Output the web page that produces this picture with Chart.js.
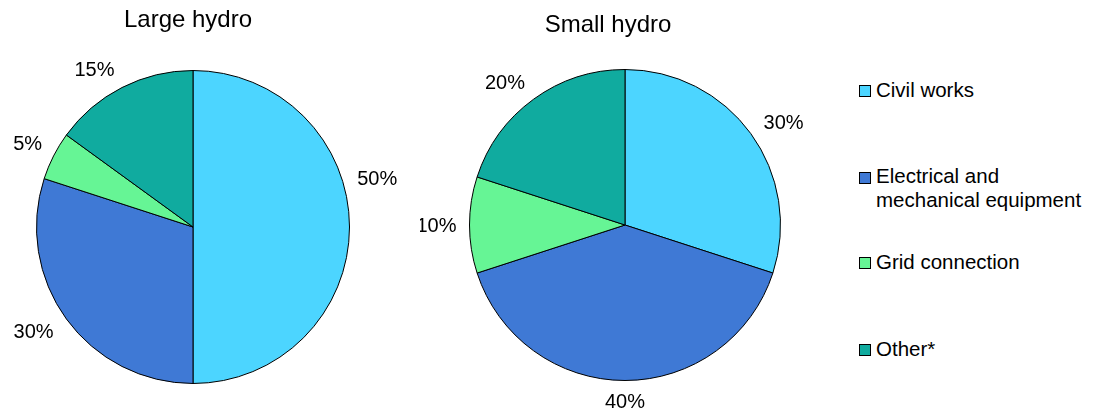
<!DOCTYPE html>
<html>
<head>
<meta charset="utf-8">
<script src="https://cdn.jsdelivr.net/npm/chart.js@4"></script>
<style>
  body { margin: 0; background: #fff; font-family: "Liberation Sans", Arial, sans-serif; }
  #wrap { position: relative; width: 1093px; height: 414px; overflow: hidden; }
  .box { position: absolute; top: 0; width: 400px; height: 414px; }
  .leg { position: absolute; left: 859px; font-size: 20.5px; line-height: 24px; color: #000; }
  .leg .sw { position: absolute; left: 0; width: 10px; height: 10px; border: 1px solid #000; }
  .leg .tx { position: absolute; left: 17px; width: 215px; }
</style>
</head>
<body>
<div id="wrap">
  <div class="box" style="left:0"><canvas id="large"></canvas></div>
  <div class="box" style="left:420px"><canvas id="small"></canvas></div>
  <div id="legend"></div>
</div>
<script>
// data
const categories = ['Civil works', 'Electrical and mechanical equipment', 'Grid connection', 'Other*'];
const largeHydro = [50, 30, 5, 15];
const smallHydro = [30, 40, 10, 20];
const colours = ['#4cd5ff', '#3f79d5', '#66f595', '#10ab9f'];

// title + percent labels round the pie
const pieText = {
  id: 'pieText',
  afterDatasetsDraw(chart, args, opts) {
    const ctx = chart.ctx;
    const arcs = chart.getDatasetMeta(0).data;
    const vals = chart.data.datasets[0].data;
    ctx.save();
    ctx.fillStyle = '#000';
    ctx.textAlign = 'center';
    ctx.textBaseline = 'alphabetic';
    ctx.font = '24px "Liberation Sans", Arial, sans-serif';
    ctx.fillText(opts.title, opts.titleX, opts.titleY);
    ctx.font = '20px "Liberation Sans", Arial, sans-serif';
    arcs.forEach((arc, i) => {
      const p = arc.getProps(['x', 'y', 'startAngle', 'endAngle', 'outerRadius'], true);
      const a = (p.startAngle + p.endAngle) / 2 + (opts.nudge[i] || 0) * Math.PI / 180;
      const txt = vals[i] + '%';
      const w = ctx.measureText(txt).width;
      const dx = Math.cos(a), dy = Math.sin(a);
      // distance from centre to label centre: radius + gap + half text extent along the ray
      const d = p.outerRadius + 13 + (w / 2) * Math.abs(dx) + 7 * Math.abs(dy);
      ctx.fillText(txt, p.x + d * dx, p.y + d * dy + 7);
    });
    ctx.restore();
  }
};

function makePie(id, values, title, padding, nudge) {
  return new Chart(document.getElementById(id), {
    type: 'pie',
    data: {
      labels: categories,
      datasets: [{
        data: values,
        backgroundColor: colours,
        borderColor: '#000',
        borderWidth: 1
      }]
    },
    options: {
      responsive: true,
      maintainAspectRatio: false,
      animation: false,
      layout: { padding: padding },
      plugins: {
        legend: { display: false },
        tooltip: { enabled: false },
        pieText: { title: title, titleX: 188, titleY: id === 'large' ? 27 : 32, nudge: nudge }
      }
    },
    plugins: [pieText]
  });
}

makePie('large', largeHydro, 'Large hydro', { left: 36, top: 70, right: 50, bottom: 30 }, [-15, 3, 0, -5]);
makePie('small', smallHydro, 'Small hydro', { left: 49, top: 69, right: 39, bottom: 33 }, [3, 0, 0, -4]);

// legend built from the same categories / colours
const legendTops = [77.6, 164.2, 249.9, 336.6];
const legend = document.getElementById('legend');
categories.forEach((c, i) => {
  const item = document.createElement('div');
  item.className = 'leg';
  item.style.top = legendTops[i] + 'px';
  item.innerHTML = '<div class="sw" style="top:7.5px;background:' + colours[i] + '"></div>' +
    '<div class="tx">' + c + '</div>';
  legend.appendChild(item);
});
</script>
</body>
</html>
